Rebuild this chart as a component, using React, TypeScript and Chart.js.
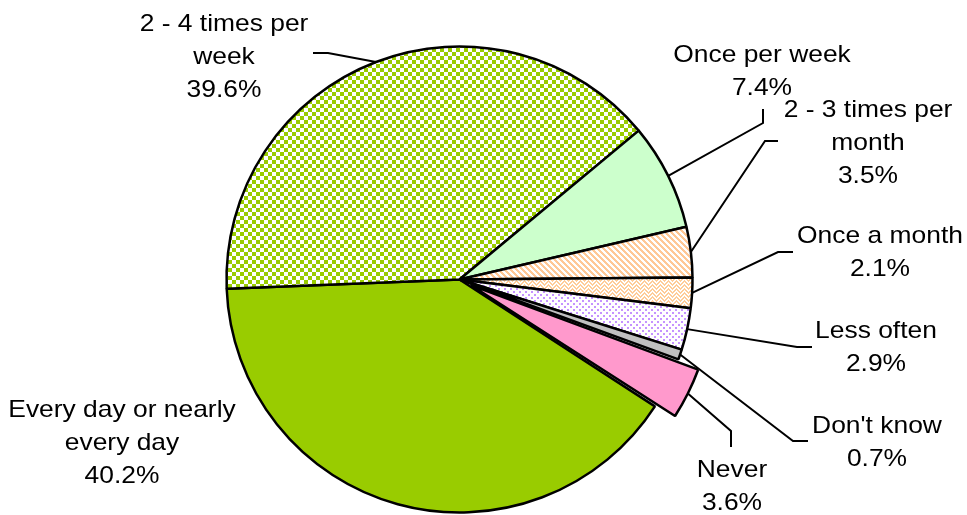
import React, { useEffect, useRef } from "react";
import { Chart, registerables } from "chart.js";

Chart.register(...registerables);

const categories = [
  "Every day or nearly every day",
  "2 - 4 times per week",
  "Once per week",
  "2 - 3 times per month",
  "Once a month",
  "Less often",
  "Don't know",
  "Never",
];
const values = [40.2, 39.6, 7.4, 3.5, 2.1, 2.9, 0.7, 3.6];
const labelLines = [
  ["Every day or nearly", "every day"],
  ["2 - 4 times per", "week"],
  ["Once per week"],
  ["2 - 3 times per", "month"],
  ["Once a month"],
  ["Less often"],
  ["Don't know"],
  ["Never"],
];
const explode = [0, 0, 0, 0, 0, 0, 0, 50];

// label layout: text centre x, first baseline y, elbow point, line end (null = no leader)
const labelLayout: { tx: number; ty: number; elbow: number[] | null; end: number[] | null }[] = [
  { tx: 122, ty: 417, elbow: null, end: null },
  { tx: 224, ty: 31, elbow: [328, 53], end: [313, 53] },
  { tx: 762, ty: 62, elbow: [763, 123], end: [763, 109] },
  { tx: 868, ty: 117, elbow: [765, 141], end: [778, 141] },
  { tx: 880, ty: 243, elbow: [778, 252], end: [793, 252] },
  { tx: 876, ty: 338, elbow: [797, 347], end: [812, 347] },
  { tx: 877, ty: 433, elbow: [793, 441], end: [808, 441] },
  { tx: 732, ty: 477, elbow: [731, 431], end: [731, 447] },
];

function makeTile(size: number, draw: (c: CanvasRenderingContext2D) => void): CanvasPattern {
  const cv = document.createElement("canvas");
  cv.width = size;
  cv.height = size;
  const c = cv.getContext("2d")!;
  draw(c);
  return c.createPattern(cv, "repeat")!;
}

function buildFills(): (string | CanvasPattern)[] {
  const checker = makeTile(8, (c) => {
    c.fillStyle = "#ffffff";
    c.fillRect(0, 0, 8, 8);
    c.fillStyle = "#99cc00";
    c.fillRect(0, 0, 4, 4);
    c.fillRect(4, 4, 4, 4);
  });
  const stripes = makeTile(6, (c) => {
    c.fillStyle = "#ffffff";
    c.fillRect(0, 0, 6, 6);
    c.fillStyle = "#ffc896";
    for (let x = 0; x < 6; x++)
      for (let y = 0; y < 6; y++) if ((((x - y) % 6) + 6) % 6 < 3) c.fillRect(x, y, 1, 1);
  });
  const weave = makeTile(8, (c) => {
    c.fillStyle = "#ffffff";
    c.fillRect(0, 0, 8, 8);
    c.fillStyle = "#ffcc99";
    for (let x = 0; x < 8; x++)
      for (let y = 0; y < 8; y++) {
        const a = x < 4 ? (x + y) % 4 : (((y - x) % 4) + 4) % 4;
        if (a < 2) c.fillRect(x, y, 1, 1);
      }
  });
  const dots = makeTile(6, (c) => {
    c.fillStyle = "#ffffff";
    c.fillRect(0, 0, 6, 6);
    c.fillStyle = "#c593ff";
    c.fillRect(0, 0, 2, 2);
    c.fillRect(3, 3, 2, 2);
  });
  return ["#99cc00", checker, "#ccffcc", stripes, weave, dots, "#c0c0c0", "#ff99cc"];
}

const labelPlugin = {
  id: "pieLabels",
  afterDraw(chart: any) {
    const ctx: CanvasRenderingContext2D = chart.ctx;
    const meta = chart.getDatasetMeta(0);
    ctx.save();
    meta.data.forEach((arc: any, i: number) => {
      const lay = labelLayout[i];
      const mid = (arc.startAngle + arc.endAngle) / 2;
      const circ = arc.endAngle - arc.startAngle;
      const off = (explode[i] || 0) / 4;
      const fix = 1 - Math.sin(Math.min(Math.PI, circ));
      const shift = off + off * fix;
      const r = arc.outerRadius + shift;
      const ax = arc.x + Math.cos(mid) * r;
      const ay = arc.y + Math.sin(mid) * r;
      if (lay.elbow && lay.end) {
        ctx.strokeStyle = "#000000";
        ctx.lineWidth = 2;
        ctx.beginPath();
        ctx.moveTo(ax, ay);
        ctx.lineTo(lay.elbow[0], lay.elbow[1]);
        ctx.lineTo(lay.end[0], lay.end[1]);
        ctx.stroke();
      }
      const lines = [...labelLines[i], values[i].toFixed(1) + "%"];
      ctx.fillStyle = "#000000";
      ctx.font = '24px "Liberation Sans", Arial, sans-serif';
      ctx.textAlign = "center";
      ctx.textBaseline = "alphabetic";
      lines.forEach((t, k) => {
        ctx.save();
        ctx.translate(lay.tx, lay.ty + k * 33);
        ctx.scale(1.1, 1);
        ctx.fillText(t, 0, 0);
        ctx.restore();
      });
    });
    ctx.restore();
  },
};

export default function App() {
  const ref = useRef<HTMLCanvasElement | null>(null);
  useEffect(() => {
    if (!ref.current) return;
    const chart = new Chart(ref.current, {
      type: "pie",
      data: {
        labels: categories,
        datasets: [
          {
            data: values,
            backgroundColor: buildFills() as any,
            borderColor: "#000000",
            borderWidth: 2.5,
            offset: explode,
            radius: 233,
          } as any,
        ],
      },
      options: {
        animation: false,
        responsive: false,
        rotation: 123,
        layout: { padding: { left: 0, right: 48, top: 44, bottom: 0 } },
        plugins: { legend: { display: false }, tooltip: { enabled: false } },
        events: [],
      },
      plugins: [labelPlugin],
    });
    return () => chart.destroy();
  }, []);
  return (
    <div style={{ position: "fixed", left: 0, top: 0, width: 967, height: 515, background: "#ffffff" }}>
      <canvas ref={ref} width={967} height={515} style={{ display: "block" }} />
    </div>
  );
}
